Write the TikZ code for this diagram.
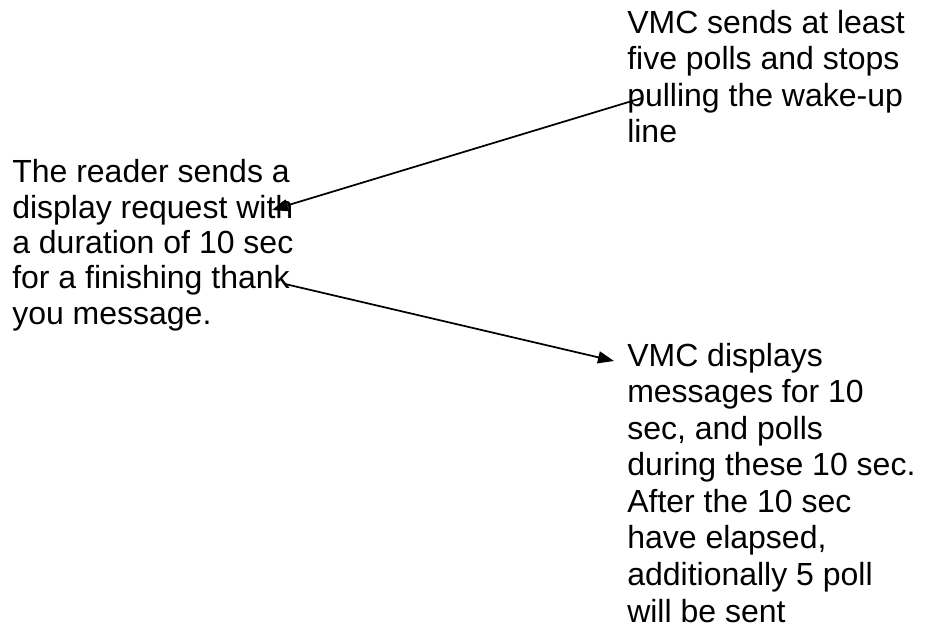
\documentclass[tikz,border=0pt]{standalone}
\usepackage{fontspec}
\setmainfont{Liberation Sans}
\usetikzlibrary{arrows.meta}
\begin{document}
\begin{tikzpicture}
[x=0.75pt,y=-0.75pt,
  textdecorate/.style={anchor=base west,inner sep=0pt,align=left,font=\fontsize{24pt}{27.4pt}\selectfont},%
  arrowdecorate/.style={-{Triangle[length=12pt,width=9pt]},line width=1.3pt}]
\useasboundingbox (0,0) rectangle (925,631);
%%% text blocks (placed at the baseline of their last line)
% nodes
\node (reader) at (12,324) [textdecorate,font=\fontsize{24pt}{26.5pt}\selectfont]
  {The reader sends a\\display request with\\a duration of 10 sec\\for a finishing thank\\you message.};
\node (polls) at (627,143) [textdecorate]
  {VMC sends at least\\five polls and stops\\pulling the wake-up\\line};
\node (display) at (627,622) [textdecorate]
  {VMC displays\\messages for 10\\sec, and polls\\during these 10 sec.\\After the 10 sec\\have elapsed,\\additionally 5 poll\\will be sent};
%
%%% arrows
% end points
\coordinate (pull) at (642,98);
\coordinate (with) at (272,210);
\coordinate (thank) at (285,284);
\coordinate (vmc) at (614,361);
% lines
\path
(pull) edge[arrowdecorate] (with)
(thank) edge[arrowdecorate] (vmc);
\end{tikzpicture}
\end{document}
